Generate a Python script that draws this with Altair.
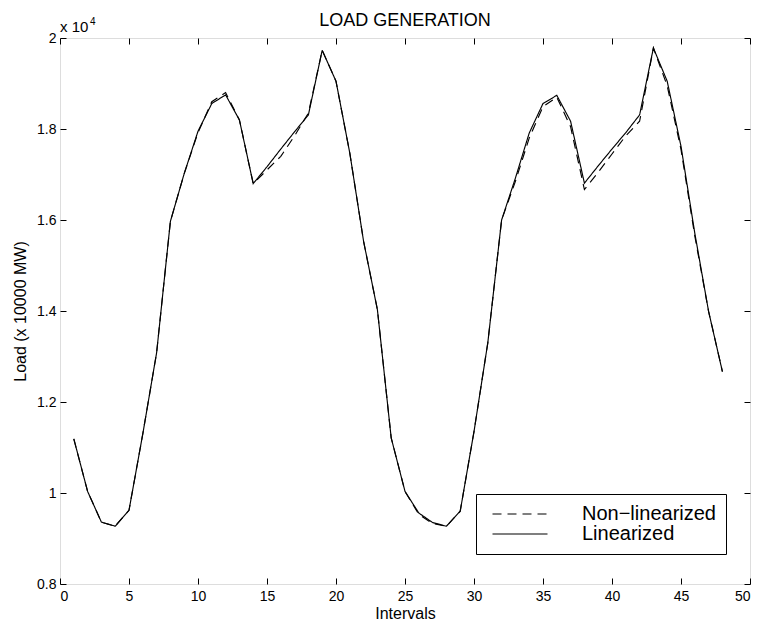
import altair as alt
import pandas as pd

intervals = list(range(1, 49))

linearized = [11190, 10035, 9360, 9270, 9620, 11300, 13080, 15970, 17020, 17950,
              18560, 18750, 18200, 16800, 17170, 17560, 17940, 18310, 19730, 19050,
              17470, 15530, 14030, 11210, 10035, 9560, 9350, 9270, 9600, 11350,
              13300, 16000, 16920, 17910, 18560, 18740, 18170, 16810, 17190, 17560,
              17920, 18310, 19780, 19050, 17620, 15710, 13990, 12670]

non_linearized = [11190, 10035, 9360, 9270, 9620, 11300, 13080, 15970, 17020, 17920,
                  18600, 18800, 18200, 16800, 17100, 17400, 17850, 18350, 19730, 19050,
                  17470, 15530, 14030, 11210, 10035, 9530, 9330, 9270, 9600, 11350,
                  13300, 16000, 16850, 17800, 18490, 18700, 18050, 16670, 17050, 17450,
                  17850, 18170, 19780, 18950, 17550, 15650, 13990, 12670]

series_names = ["Non\u2212linearized", "Linearized"]
x_ticks = list(range(0, 51, 5))
y_ticks = [8000, 10000, 12000, 14000, 16000, 18000, 20000]

df = pd.DataFrame({
    "Interval": intervals * 2,
    "Load": non_linearized + linearized,
    "Series": [series_names[0]] * len(intervals) + [series_names[1]] * len(intervals),
})

FONT = "Liberation Sans"
x_scale = alt.Scale(domain=[0, 50], nice=False)
y_scale = alt.Scale(domain=[8000, 20000], nice=False, zero=False)

lines = alt.Chart(df).mark_line(color="black", strokeWidth=1.15).encode(
    x=alt.X("Interval:Q", scale=x_scale,
            axis=alt.Axis(values=x_ticks, title="Intervals", orient="bottom",
                          offset=-6, tickSize=6, domain=False, grid=False,
                          labelPadding=5, titlePadding=2, labelFontSize=14,
                          titleFontSize=16, labelFont=FONT, titleFont=FONT,
                          titleFontWeight="normal", labelColor="black",
                          titleColor="black", tickColor="black")),
    y=alt.Y("Load:Q", scale=y_scale,
            axis=alt.Axis(values=y_ticks, labelExpr="datum.value / 10000",
                          title="Load (x 10000 MW)", orient="left",
                          offset=-6, tickSize=6, domain=False, grid=False,
                          labelPadding=4, titlePadding=8, labelFontSize=14,
                          titleFontSize=16, labelFont=FONT, titleFont=FONT,
                          titleFontWeight="normal", labelColor="black",
                          titleColor="black", tickColor="black")),
    strokeDash=alt.StrokeDash(
        "Series:N", title=None,
        scale=alt.Scale(domain=series_names, range=[[9, 6], [1, 0]]),
        legend=alt.Legend(orient="none", legendX=416, legendY=456,
                          fillColor="white", strokeColor="black",
                          padding=10, symbolType="M-5,0L5,0",
                          symbolSize=121, symbolOffset=24,
                          symbolStrokeColor="black", symbolStrokeWidth=1.15,
                          labelFont=FONT, labelFontSize=20, labelOffset=52,
                          labelColor="black", rowPadding=-2)),
)

frame_axes = alt.Chart(df).mark_line(opacity=0).encode(
    x=alt.X("Interval:Q", scale=x_scale,
            axis=alt.Axis(values=x_ticks, orient="top", offset=-6, tickSize=6,
                          domain=False, grid=False, labels=False, title=None,
                          tickColor="black")),
    y=alt.Y("Load:Q", scale=y_scale,
            axis=alt.Axis(values=y_ticks, orient="right", offset=-6, tickSize=6,
                          domain=False, grid=False, labels=False, title=None,
                          tickColor="black")),
)

exp_text = alt.Chart(pd.DataFrame({"t": ["x 10"]})).mark_text(
    align="left", baseline="alphabetic", font=FONT, fontSize=15, color="black"
).encode(text="t:N", x=alt.value(0), y=alt.value(-6))

exp_sup = alt.Chart(pd.DataFrame({"t": ["4"]})).mark_text(
    align="left", baseline="alphabetic", font=FONT, fontSize=10, color="black"
).encode(text="t:N", x=alt.value(30), y=alt.value(-13))

chart = alt.layer(lines, frame_axes, exp_text, exp_sup).resolve_axis(
    x="independent", y="independent"
).properties(
    width=690, height=546,
    padding={"left": 60, "top": 38, "right": 11, "bottom": 43},
    autosize=alt.AutoSizeParams(type="none"),
    title=alt.Title("LOAD GENERATION", fontSize=18, font=FONT,
                    fontWeight="normal", color="black", offset=12, dy=25),
).configure_view(stroke="black", strokeWidth=1.2).configure(background="white")

chart.save("out.html", embed_options={"renderer": "svg", "actions": False})
